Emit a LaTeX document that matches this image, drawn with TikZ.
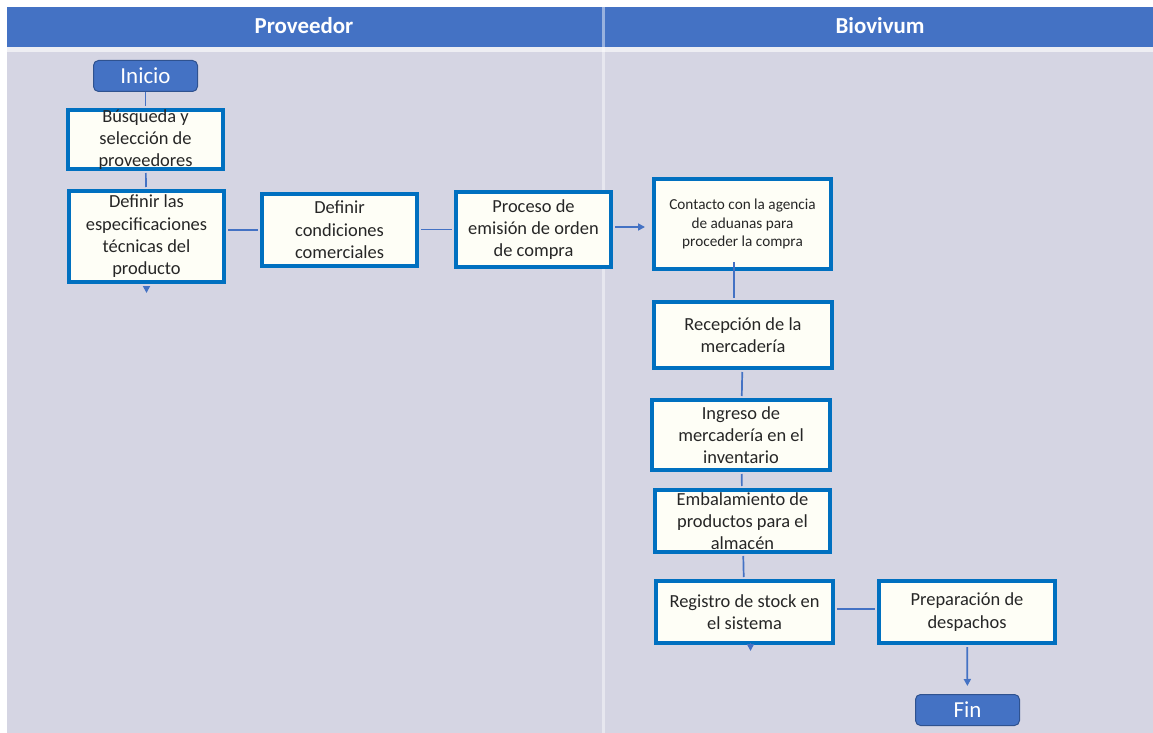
\documentclass[tikz,border=0pt]{standalone}
\usepackage{fontspec}
\setmainfont{Carlito}
\usetikzlibrary{arrows.meta}

\definecolor{hdr}{HTML}{4472C4}
\definecolor{lane}{HTML}{D5D5E3}
\definecolor{gapband}{HTML}{EEEEF3}
\definecolor{boxline}{HTML}{0070C0}
\definecolor{boxfill}{HTML}{FEFEF6}
\definecolor{ink}{HTML}{262626}
\definecolor{termline}{HTML}{2F528F}

\begin{document}
\begin{tikzpicture}[
  x=1bp, y=-1bp,
  stepbox/.style={draw=boxline, line width=4bp, fill=boxfill, inner sep=0pt},
  boxtext/.style={text=ink, align=center, inner sep=0pt,
                  font=\fontsize{18.5}{22.4}\selectfont},
  smalltext/.style={text=ink, align=center, inner sep=0pt,
                  font=\fontsize{15.3}{18.7}\selectfont},
  term/.style={fill=hdr, draw=termline, line width=1bp, rounded corners=5bp,
               minimum width=104bp, minimum height=31bp, inner sep=0pt,
               text=white, font=\fontsize{23}{26}\selectfont},
  lanetitle/.style={text=white, inner sep=0pt,
                    font=\fontsize{23}{26}\selectfont\bfseries},
  link/.style={draw=hdr, line width=1.7bp, shorten <=2bp, shorten >=2bp},
  flow/.style={link, -{Triangle[length=7bp,width=7bp]}},
]
\useasboundingbox (0,0) rectangle (1153,733);

% page, swimlane headers and lane bodies
\fill[white] (0,0) rectangle (1153,733);
\fill[hdr] (7,7) rectangle (1153,47);
\fill[gapband] (7,47) rectangle (1153,52);
\fill[lane] (7,52) rectangle (1153,733);
\draw[white, opacity=0.45, line width=3bp] (603.5,7) -- (603.5,733);

\node[lanetitle] (laneP) at (304,26) {Proveedor};
\node[lanetitle] (laneB) at (880,26) {Biovivum};

% start and end terminals
\node[term] (inicio) at (145.5,76) {Inicio};
\node[term] (fin) at (967.5,710) {Fin};

% supplier lane
\node[stepbox, minimum width=155bp, minimum height=59bp] (busq) at (145.5,139.5) {};
\node[boxtext] (busq-t) at (busq) {Búsqueda y\\selección de\\proveedores};

\node[stepbox, minimum width=155bp, minimum height=91bp] (deflas) at (146.5,236.5) {};
\node[boxtext] (deflas-t) at (deflas) {Definir las\\especificaciones\\técnicas del\\producto};

\node[stepbox, minimum width=155bp, minimum height=72bp] (defcond) at (339.5,230) {};
\node[boxtext] (defcond-t) at (defcond) {Definir\\condiciones\\comerciales};

\node[stepbox, minimum width=155bp, minimum height=75bp] (proceso) at (533.5,229.5) {};
\node[boxtext] (proceso-t) at (proceso) {Proceso de\\emisión de orden\\de compra};

% Biovivum lane
\node[stepbox, minimum width=177bp, minimum height=90bp] (contacto) at (742.5,224) {};
\node[smalltext] (contacto-t) at (contacto) {Contacto con la agencia\\de aduanas para\\proceder la compra};

\node[stepbox, minimum width=178bp, minimum height=66bp] (recep) at (743,335) {};
\node[boxtext] (recep-t) at (recep) {Recepción de la\\mercadería};

\node[stepbox, minimum width=178bp, minimum height=70bp] (ingreso) at (741,435) {};
\node[boxtext] (ingreso-t) at (ingreso) {Ingreso de\\mercadería en el\\inventario};

\node[stepbox, minimum width=175bp, minimum height=62bp] (embal) at (742.5,521) {};
\node[boxtext] (embal-t) at (embal) {Embalamiento de\\productos para el\\almacén};

\node[stepbox, minimum width=177bp, minimum height=62bp] (registro) at (744.5,612) {};
\node[boxtext] (registro-t) at (registro) {Registro de stock en\\el sistema};

\node[stepbox, minimum width=176bp, minimum height=62bp] (prep) at (967,612) {};
\node[boxtext] (prep-t) at (prep) {Preparación de\\despachos};

% free ends of connectors
\coordinate (deflas-out) at (146.5,293);
\coordinate (registro-out) at (750.5,651);
\coordinate (contacto-in) at (734,262);

% connectors
\draw[link, shorten <=0pt] (inicio) -- (busq);
\draw[link] (busq) -- (deflas);
\draw[flow, shorten >=0pt] (deflas.south) -- (deflas-out);
\draw[link] (defcond.west -| deflas.east) -- (defcond.west);
\draw[link] (proceso.west -| defcond.east) -- (proceso.west);
\draw[flow, shorten >=7bp] (proceso.east |- {(0,227)}) -- (contacto.west |- {(0,227)});
\draw[link, shorten <=0pt] (contacto-in) -- (contacto-in |- recep.north);
\draw[link] (recep) -- (ingreso);
\draw[link] (ingreso) -- (embal);
\draw[link] (embal) -- (registro);
\draw[flow, shorten >=0pt] (registro.south -| registro-out) -- (registro-out);
\draw[link] (registro.east |- {(0,609)}) -- (prep.west |- {(0,609)});
\draw[flow, shorten >=8bp] (prep) -- (fin);
\end{tikzpicture}
\end{document}
